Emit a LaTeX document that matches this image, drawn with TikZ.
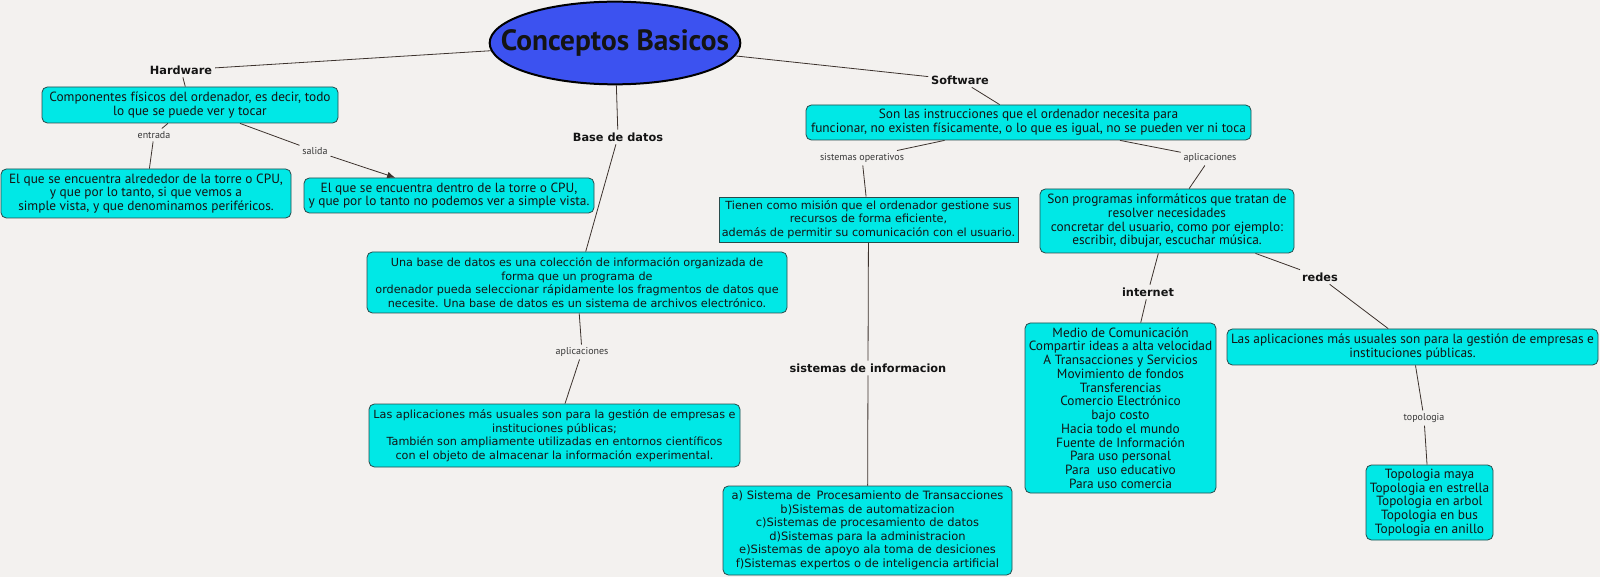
\documentclass[tikz,border=0pt]{standalone}
\usepackage{fontspec}
\setmainfont{DejaVu Sans}
\newfontfamily\narrowfont{PT Sans}
\usetikzlibrary{arrows.meta,shapes.geometric}
\definecolor{mapBack}{RGB}{243,241,239}
\definecolor{mapCyan}{RGB}{0,232,230}
\definecolor{mapBlue}{RGB}{60,82,240}
\definecolor{mapEdge}{RGB}{40,75,75}
\definecolor{mapLine}{RGB}{60,50,45}
\definecolor{mapText}{RGB}{20,20,20}

\begin{document}
\begin{tikzpicture}[x=0.75pt, y=-0.75pt,
    box/.style={rectangle, rounded corners=4pt, draw=mapEdge, fill=mapCyan,
                line width=0.6pt, text=mapText, align=center, inner sep=1pt},
    wide/.style={box, font=\fontsize{8.4}{10.1}\selectfont},
    narrow/.style={box, font=\narrowfont\fontsize{10}{10.3}\selectfont},
    relbold/.style={font=\bfseries\fontsize{8.5}{10}\selectfont, text=mapText, inner sep=2pt},
    relsmall/.style={font=\narrowfont\fontsize{7.5}{8}\selectfont, text=mapText!85, inner sep=2pt},
    conn/.style={draw=mapLine, line width=0.6pt},
    arr/.style={conn, -{Latex[length=6pt,width=5pt]}}
  ]
  \fill[mapBack] (0,0) rectangle (1600,577);
  \useasboundingbox (0,0) rectangle (1600,577);

  \node[ellipse, draw=black, line width=1.5pt, fill=mapBlue, inner sep=0pt,
        minimum width=188pt, minimum height=62pt,
        font=\narrowfont\bfseries\fontsize{22}{24}\selectfont,
        text=mapText] (title) at (615,43) {\makebox[0pt]{Conceptos Basicos}};

  % hardware
  \node[relbold] (hardware) at (181,70) {Hardware};
  \node[narrow, minimum width=222pt, minimum height=27pt] (hw) at (190,105)
    {Componentes físicos del ordenador, es decir, todo\\lo que se puede ver y tocar};
  \node[relsmall] (entrada) at (154,135) {entrada};
  \node[relsmall] (salida) at (315,151) {salida};
  \node[narrow, minimum width=217.5pt, minimum height=36.75pt] (hwin) at (146,193.5)
    {El que se encuentra alrededor de la torre o CPU,\\y que por lo tanto, si que vemos a\\simple vista, y que denominamos periféricos.};
  \node[narrow, minimum width=217.5pt, minimum height=26.25pt] (hwout) at (449,195.5)
    {El que se encuentra dentro de la torre o CPU,\\y que por lo tanto no podemos ver a simple vista.};

  % base de datos
  \node[relbold] (basedatos) at (618,137) {Base de datos};
  \node[wide, minimum width=315pt, minimum height=45.75pt] (bd) at (577,282.5)
    {Una base de datos es una colección de información organizada de\\forma que un programa de\\ordenador pueda seleccionar rápidamente los fragmentos de datos que\\necesite. Una base de datos es un sistema de archivos electrónico.};
  \node[relsmall] (apbd) at (582,352) {aplicaciones};
  \node[wide, minimum width=278.25pt, minimum height=47.25pt] (bdapp) at (554.5,435.5)
    {Las aplicaciones más usuales son para la gestión de empresas e\\instituciones públicas;\\ También son ampliamente utilizadas en entornos científicos\\con el objeto de almacenar la información experimental.};

  % software
  \node[relbold] (software) at (960,80) {Software};
  \node[narrow, minimum width=333.75pt, minimum height=26.25pt] (sw) at (1028.5,122.5)
    {Son las instrucciones que el ordenador necesita para\\funcionar, no existen físicamente, o lo que es igual, no se pueden ver ni toca};
  \node[relsmall] (sisop) at (862,158) {sistemas operativos};
  \node[relsmall] (apsw) at (1210,158) {aplicaciones};
  \node[wide, sharp corners, minimum width=224.25pt, minimum height=33.75pt] (so) at (868.5,219.5)
    {Tienen como misión que el ordenador gestione sus\\recursos de forma eficiente,\\además de permitir su comunicación con el usuario.};
  \node[relbold] (sisinfo) at (868,368) {sistemas de informacion};
  \node[wide, font=\fontsize{8.6}{10.1}\selectfont, minimum width=216.75pt, minimum height=66.75pt] (si) at (867.5,530.5)
    {a) Sistema de\,\ Procesamiento de Transacciones\\b)Sistemas de automatizacion\\c)Sistemas de procesamiento de datos\\d)Sistemas para la administracion\\e)Sistemas de apoyo ala toma de desiciones\\f)Sistemas expertos o de inteligencia artificial};
  \node[narrow, minimum width=190.5pt, minimum height=48pt] (apps) at (1167,221)
    {Son programas informáticos que tratan de\\resolver necesidades\\ concretar del usuario, como por ejemplo:\\escribir, dibujar, escuchar música.};
  \node[relbold] (internet) at (1148,292) {internet};
  \node[narrow, minimum width=143.25pt, minimum height=127.5pt] (net) at (1120.5,408)
    {Medio de Comunicación\\Compartir ideas a alta velocidad\\A Transacciones y Servicios\\Movimiento de fondos\\Transferencias\\Comercio Electrónico\\bajo costo\\Hacia todo el mundo\\Fuente de Información\\Para uso personal\\Para\ \ uso educativo\\Para uso comercia};
  \node[relbold] (redes) at (1320,277) {redes};
  \node[narrow, minimum width=278.25pt, minimum height=27pt] (rbox) at (1412.5,347)
    {Las aplicaciones más usuales son para la gestión de empresas e\\instituciones públicas.};
  \node[relsmall] (topologia) at (1424,418) {topologia};
  \node[narrow, minimum width=95.25pt, minimum height=56.25pt] (topo) at (1429.5,502.5)
    {Topologia maya\\Topologia en estrella\\Topologia en arbol\\Topologia en bus\\Topologia en anillo};

  % connectors
  \draw[conn] (title) -- (hardware);
  \draw[conn] (hardware) -- (hw);
  \draw[conn] (hw) -- (entrada);
  \draw[conn] (entrada) -- (hwin);
  \draw[conn] (hw) -- (salida);
  \draw[arr] (salida) -- (hwout);
  \draw[conn] (title) -- (basedatos);
  \draw[conn] (basedatos) -- (bd);
  \draw[conn] (bd) -- (apbd);
  \draw[conn] (apbd) -- (bdapp);
  \draw[conn] (title) -- (software);
  \draw[conn] (software) -- (sw);
  \draw[conn] (sw) -- (sisop);
  \draw[conn] (sisop) -- (so);
  \draw[conn] (so) -- (sisinfo);
  \draw[conn] (sisinfo) -- (si);
  \draw[conn] (sw) -- (apsw);
  \draw[conn] (apsw) -- (apps);
  \draw[conn] (apps) -- (internet);
  \draw[conn] (internet) -- (net);
  \draw[conn] (apps) -- (redes);
  \draw[conn] (redes) -- (rbox);
  \draw[conn] (rbox) -- (topologia);
  \draw[conn] (topologia) -- (topo);
\end{tikzpicture}
\end{document}
